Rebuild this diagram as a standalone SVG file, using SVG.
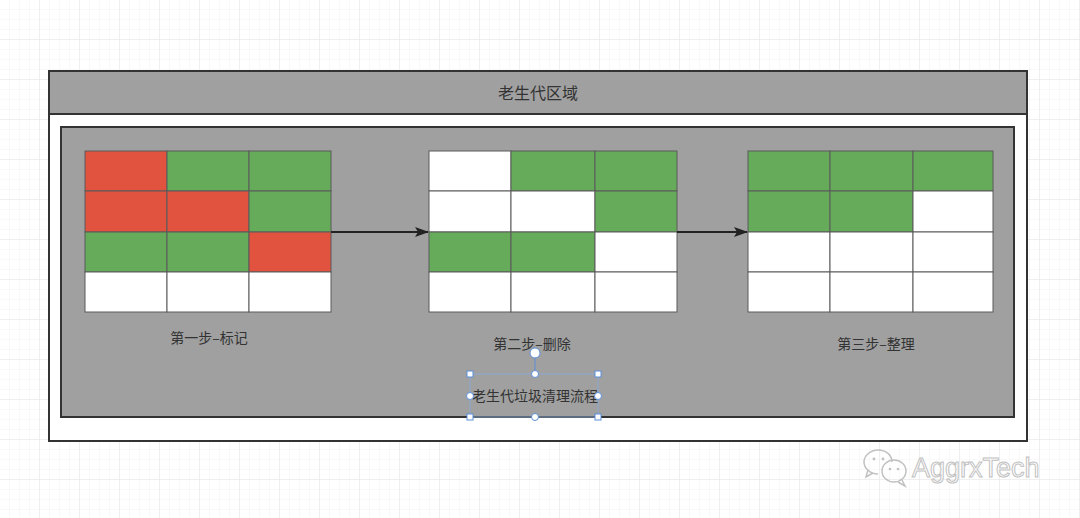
<svg xmlns="http://www.w3.org/2000/svg" width="1080" height="518" viewBox="0 0 1080 518">
<defs>
<pattern id="minor" width="10" height="10" patternUnits="userSpaceOnUse"><path d="M10 0V10H0" fill="none" stroke="#f2f2f2" stroke-width="1"/></pattern>
<pattern id="major" width="40" height="40" patternUnits="userSpaceOnUse"><rect width="40" height="40" fill="url(#minor)"/><path d="M40 0V40H0" fill="none" stroke="#e6e6e6" stroke-width="1"/></pattern>
<marker id="arr" markerWidth="14" markerHeight="10" refX="13" refY="5" orient="auto" markerUnits="userSpaceOnUse"><path d="M0 0L14 5L0 10L3 5Z" fill="#222"/></marker>
</defs>
<style>
.frame{stroke:#333;stroke-width:2}
.r{fill:#e1533f}.g{fill:#66ab5a}.w{fill:#fff}
.cell{stroke:#5a5a5a;stroke-width:1}
.t{font-family:"Noto Sans CJK SC","Noto Sans",sans-serif;fill:#333;text-anchor:middle}
.h{fill:#fff;stroke:#5b8fd8;stroke-width:1}
</style>
<rect width="1080" height="518" fill="#fff"/>
<rect width="1080" height="518" fill="url(#major)"/>
<g id="old-gen-region">
<rect x="49" y="71" width="978" height="370" fill="#fff" class="frame"/>
<rect x="49" y="71" width="978" height="43" fill="#a0a0a0" class="frame"/>
<text class="t" x="538" y="99" font-size="16">老生代区域</text>
</g>
<g id="gc-process">
<rect x="61" y="127" width="953" height="290" fill="#a0a0a0" class="frame"/>
</g>
<g id="step1">
<rect class="cell r" x="85" y="151" width="82" height="40"/><rect class="cell g" x="167" y="151" width="82" height="40"/><rect class="cell g" x="249" y="151" width="82" height="40"/>
<rect class="cell r" x="85" y="191" width="82" height="41"/><rect class="cell r" x="167" y="191" width="82" height="41"/><rect class="cell g" x="249" y="191" width="82" height="41"/>
<rect class="cell g" x="85" y="232" width="82" height="40"/><rect class="cell g" x="167" y="232" width="82" height="40"/><rect class="cell r" x="249" y="232" width="82" height="40"/>
<rect class="cell w" x="85" y="272" width="82" height="40"/><rect class="cell w" x="167" y="272" width="82" height="40"/><rect class="cell w" x="249" y="272" width="82" height="40"/>
<text class="t" x="209" y="343" font-size="14">第一步–标记</text>
</g>
<g id="step2">
<rect class="cell w" x="429" y="151" width="82" height="40"/><rect class="cell g" x="511" y="151" width="84" height="40"/><rect class="cell g" x="595" y="151" width="82" height="40"/>
<rect class="cell w" x="429" y="191" width="82" height="41"/><rect class="cell w" x="511" y="191" width="84" height="41"/><rect class="cell g" x="595" y="191" width="82" height="41"/>
<rect class="cell g" x="429" y="232" width="82" height="40"/><rect class="cell g" x="511" y="232" width="84" height="40"/><rect class="cell w" x="595" y="232" width="82" height="40"/>
<rect class="cell w" x="429" y="272" width="82" height="40"/><rect class="cell w" x="511" y="272" width="84" height="40"/><rect class="cell w" x="595" y="272" width="82" height="40"/>
<text class="t" x="532" y="349" font-size="14">第二步–删除</text>
</g>
<g id="step3">
<rect class="cell g" x="748" y="151" width="82" height="40"/><rect class="cell g" x="830" y="151" width="83" height="40"/><rect class="cell g" x="913" y="151" width="80" height="40"/>
<rect class="cell g" x="748" y="191" width="82" height="41"/><rect class="cell g" x="830" y="191" width="83" height="41"/><rect class="cell w" x="913" y="191" width="80" height="41"/>
<rect class="cell w" x="748" y="232" width="82" height="40"/><rect class="cell w" x="830" y="232" width="83" height="40"/><rect class="cell w" x="913" y="232" width="80" height="40"/>
<rect class="cell w" x="748" y="272" width="82" height="40"/><rect class="cell w" x="830" y="272" width="83" height="40"/><rect class="cell w" x="913" y="272" width="80" height="40"/>
<text class="t" x="876" y="349" font-size="14">第三步–整理</text>
</g>
<g id="connectors">
<line x1="331" y1="232" x2="428" y2="232" stroke="#222" stroke-width="2" marker-end="url(#arr)"/>
<line x1="677" y1="232" x2="747" y2="232" stroke="#222" stroke-width="2" marker-end="url(#arr)"/>
</g>
<g id="title-label">
<rect x="470" y="374" width="128" height="43" fill="none" stroke="#8aa7d0" stroke-width="1"/>
<text class="t" x="535" y="401" font-size="14">老生代垃圾清理流程</text>
<line x1="535" y1="358" x2="535" y2="374" stroke="#5b8fd8" stroke-width="1"/>
<circle class="h" cx="535" cy="353" r="5"/>
<rect class="h" x="467" y="371" width="6" height="6"/><rect class="h" x="595" y="371" width="6" height="6"/>
<rect class="h" x="467" y="414" width="6" height="6"/><rect class="h" x="595" y="414" width="6" height="6"/>
<circle class="h" cx="535" cy="374" r="3.5"/><circle class="h" cx="535" cy="417" r="3.5"/>
<circle class="h" cx="470" cy="396" r="3.5"/><circle class="h" cx="598" cy="396" r="3.5"/>
</g>
<g id="watermark" opacity="0.9">
<g fill="none" stroke="#bbb" stroke-width="1.5">
<path d="M878 474c-8 0-14-6-14-12s6-12 14-12 14 5 14 12"/>
<path d="M868 470l-2 7 7-4"/>
<ellipse cx="894" cy="471" rx="12" ry="11"/>
<path d="M902 480l3 6-7-4"/>
</g>
<g fill="#bbb"><circle cx="874" cy="459" r="1.4"/><circle cx="883" cy="459" r="1.4"/><circle cx="890" cy="469" r="1.3"/><circle cx="898" cy="469" r="1.3"/></g>
<text x="912" y="477" font-family="Liberation Sans, sans-serif" font-size="27" fill="#fff" stroke="#bbb" stroke-width="1">AggrxTech</text>
</g>
</svg>
